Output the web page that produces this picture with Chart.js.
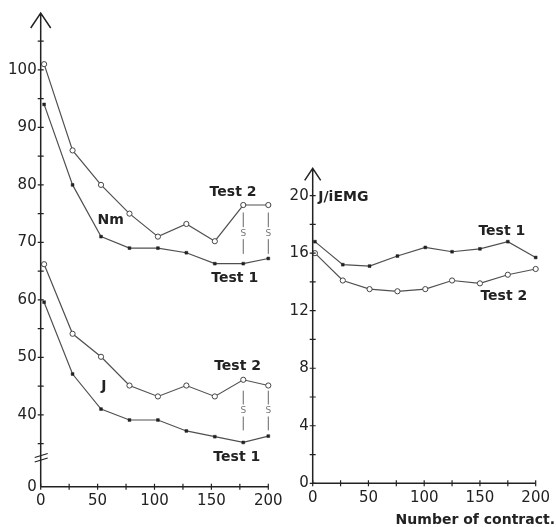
<!DOCTYPE html>
<html lang="en">
<head>
<meta charset="UTF-8">
<title>Nm, J and J/iEMG vs number of contractions</title>
<script src="https://cdn.jsdelivr.net/npm/chart.js"></script>
<style>
    body { margin: 0; background: #fff; }
    .wrap { position: relative; width: 556px; height: 527px; overflow: hidden; }
    #leftChart { position: absolute; left: 0; top: 0; }
    #rightChart { position: absolute; left: 290px; top: 0; }
</style>
</head>
<body>
<div class="wrap">
    <canvas id="leftChart" width="290" height="527"></canvas>
    <canvas id="rightChart" width="266" height="527"></canvas>
</div>
<script>
// x values (number of contractions)
const contractions = [3, 28, 53, 78, 103, 128, 153, 178, 200];
const contractionsR = [2, 27, 51, 76, 101, 125, 150, 175, 200];

// left panel: torque (Nm) and work (J)
const nmTest2 = [101, 86, 80, 75, 71, 73.2, 70.2, 76.5, 76.5];
const nmTest1 = [94, 80, 71, 69, 69, 68.2, 66.3, 66.3, 67.2];
const jTest2 = [66.2, 54.1, 50.1, 45.1, 43.2, 45.1, 43.2, 46.1, 45.1];
const jTest1 = [59.6, 47.1, 41, 39.1, 39.1, 37.2, 36.2, 35.2, 36.3];

// right panel: J/iEMG
const ratioTest1 = [16.8, 15.2, 15.1, 15.8, 16.4, 16.1, 16.3, 16.8, 15.7];
const ratioTest2 = [16.0, 14.1, 13.5, 13.35, 13.5, 14.1, 13.9, 14.5, 14.9];

// tick labels
const xTicks = [0, 25, 50, 75, 100, 125, 150, 175, 200];
const leftYTicks = [35, 40, 45, 50, 55, 60, 65, 70, 75, 80, 85, 90, 95, 100, 105];
const rightYTicks = [0, 2, 4, 6, 8, 10, 12, 14, 16, 18, 20];

const LEFT_MIN = 27.5; // axis is broken, shown as "0"
const sigContractions = [178, 200];

const ink = '#222';
const lineCol = '#505050';
const tickFont = { family: 'DejaVu Sans', size: 15 };

function pts(xs, ys) {
    return ys.map((y, i) => ({ x: xs[i], y: y }));
}

function openSeries(data) {
    return {
        data: data, borderColor: lineCol, borderWidth: 1.2,
        pointStyle: 'circle', pointRadius: 2.6, pointBackgroundColor: '#fff',
        pointBorderColor: '#444', pointBorderWidth: 1, clip: false
    };
}
function filledSeries(data) {
    return {
        data: data, borderColor: lineCol, borderWidth: 1.2,
        pointStyle: 'rect', pointRadius: 2, pointBackgroundColor: '#222',
        pointBorderColor: '#222', pointBorderWidth: 0.5, clip: false
    };
}

// axes with arrow, crossing tick marks, labels
function axisPlugin(o) {
    return {
        id: 'axisPlugin',
        afterDraw(chart) {
            const ctx = chart.ctx;
            const xs = chart.scales.x, ys = chart.scales.y;
            const a = chart.chartArea;
            const ax = a.left, ay = a.bottom;
            ctx.save();
            ctx.strokeStyle = ink;
            ctx.lineWidth = 1.5;
            ctx.beginPath();
            ctx.moveTo(ax, ay);
            ctx.lineTo(ax, a.top);
            ctx.moveTo(ax - o.arrowW, a.top + o.arrowH);
            ctx.lineTo(ax, a.top);
            ctx.lineTo(ax + o.arrowW, a.top + o.arrowH);
            ctx.moveTo(ax, ay);
            ctx.lineTo(a.right, ay);
            ctx.stroke();

            ctx.lineWidth = 1.2;
            ctx.beginPath();
            o.yTicks.forEach(v => {
                const py = ys.getPixelForValue(v);
                ctx.moveTo(ax - 3, py);
                ctx.lineTo(ax + 3, py);
            });
            xTicks.forEach(v => {
                const px = xs.getPixelForValue(v);
                ctx.moveTo(px, ay - 3);
                ctx.lineTo(px, ay + 3);
            });
            ctx.stroke();

            if (o.broken) {
                ctx.lineWidth = 1.3;
                ctx.beginPath();
                [455.5, 460].forEach(by => {
                    ctx.moveTo(ax - 6, by + 2);
                    ctx.lineTo(ax + 7, by - 2);
                });
                ctx.stroke();
            }

            // significance marks
            if (o.sig) {
                ctx.strokeStyle = '#666';
                ctx.fillStyle = '#777';
                ctx.lineWidth = 1;
                ctx.font = '9px "DejaVu Sans"';
                ctx.textAlign = 'center';
                ctx.textBaseline = 'middle';
                o.sig.forEach(r => {
                    sigContractions.forEach(c => {
                        const px = xs.getPixelForValue(c);
                        const y1 = ys.getPixelForValue(r[0]);
                        const y2 = ys.getPixelForValue(r[1]);
                        const ym = (y1 + y2) / 2;
                        ctx.beginPath();
                        ctx.moveTo(px, y1);
                        ctx.lineTo(px, ym - 6);
                        ctx.moveTo(px, ym + 6);
                        ctx.lineTo(px, y2);
                        ctx.stroke();
                        ctx.fillText('S', px, ym);
                    });
                });
            }

            // annotation labels
            ctx.fillStyle = ink;
            ctx.textBaseline = 'middle';
            o.labels.forEach(l => {
                ctx.font = 'bold ' + (l.size || 14) + 'px "DejaVu Sans"';
                ctx.textAlign = l.align || 'center';
                ctx.fillText(l.text, xs.getPixelForValue(l.x), ys.getPixelForValue(l.y));
            });
            if (o.title) {
                ctx.font = 'bold 14px "DejaVu Sans"';
                ctx.textAlign = 'right';
                ctx.fillText(o.title, chart.width - 1, 520);
            }
            ctx.restore();
        }
    };
}

function makeOptions(cfg) {
    return {
        responsive: false,
        animation: false,
        layout: { padding: { top: cfg.top, right: cfg.right, left: 0, bottom: 0 } },
        plugins: {
            legend: { display: false },
            tooltip: { enabled: false }
        },
        scales: {
            x: {
                type: 'linear', min: 0, max: 200,
                grid: { display: false, drawTicks: false },
                border: { display: false },
                afterBuildTicks: s => { s.ticks = xTicks.map(v => ({ value: v })); },
                afterFit: s => { s.height = cfg.xHeight; },
                ticks: {
                    font: tickFont, color: ink, padding: cfg.xPad, maxRotation: 0, autoSkip: false,
                    callback: v => (v % 50 === 0 ? String(v) : '')
                }
            },
            y: {
                type: 'linear', min: cfg.yMin, max: cfg.yMax,
                grid: { display: false, drawTicks: false },
                border: { display: false },
                afterBuildTicks: cfg.yBuild,
                afterFit: s => { s.width = cfg.yWidth; },
                ticks: { font: tickFont, color: ink, padding: 4, autoSkip: false, callback: cfg.yLabel }
            }
        }
    };
}

new Chart(document.getElementById('leftChart'), {
    type: 'line',
    data: {
        datasets: [
            openSeries(pts(contractions, nmTest2)),
            filledSeries(pts(contractions, nmTest1)),
            openSeries(pts(contractions, jTest2)),
            filledSeries(pts(contractions, jTest1))
        ]
    },
    options: makeOptions({
        top: 9.3, right: 21.7, xHeight: 40.3, yWidth: 40.7, xPad: 5,
        yMin: LEFT_MIN, yMax: 109.9,
        yBuild: s => { s.ticks = [LEFT_MIN].concat(leftYTicks).map(v => ({ value: v })); },
        yLabel: v => (v === LEFT_MIN ? '0' : (v % 10 === 0 ? String(v) : ''))
    }),
    plugins: [axisPlugin({
        arrowW: 10, arrowH: 15, broken: true,
        yTicks: leftYTicks,
        sig: [[75.2, 68.0], [44.2, 37.3]],
        labels: [
            { text: 'Test 2', x: 169, y: 78.7 },
            { text: 'Nm', x: 61.5, y: 73.9 },
            { text: 'Test 1', x: 170.5, y: 63.7 },
            { text: 'Test 2', x: 173, y: 48.5 },
            { text: 'J', x: 55.4, y: 45.0 },
            { text: 'Test 1', x: 172.3, y: 32.6 }
        ]
    })]
});

new Chart(document.getElementById('rightChart'), {
    type: 'line',
    data: {
        datasets: [
            filledSeries(pts(contractionsR, ratioTest1)),
            openSeries(pts(contractionsR, ratioTest2))
        ]
    },
    options: makeOptions({
        top: 168.3, right: 16.7, xHeight: 43.7, yWidth: 22.7, xPad: 6,
        yMin: 0, yMax: 21.9,
        yBuild: s => { s.ticks = rightYTicks.map(v => ({ value: v })); },
        yLabel: v => (v % 4 === 0 ? String(v) : '')
    }),
    plugins: [axisPlugin({
        arrowW: 8, arrowH: 12, broken: false,
        yTicks: rightYTicks,
        labels: [
            { text: 'Test 1', x: 169.6, y: 17.55 },
            { text: 'Test 2', x: 171.4, y: 12.97 },
            { text: 'J/iEMG', x: 5, y: 19.9, align: 'left', size: 14 }
        ],
        title: 'Number of contract.'
    })]
});
</script>
</body>
</html>
